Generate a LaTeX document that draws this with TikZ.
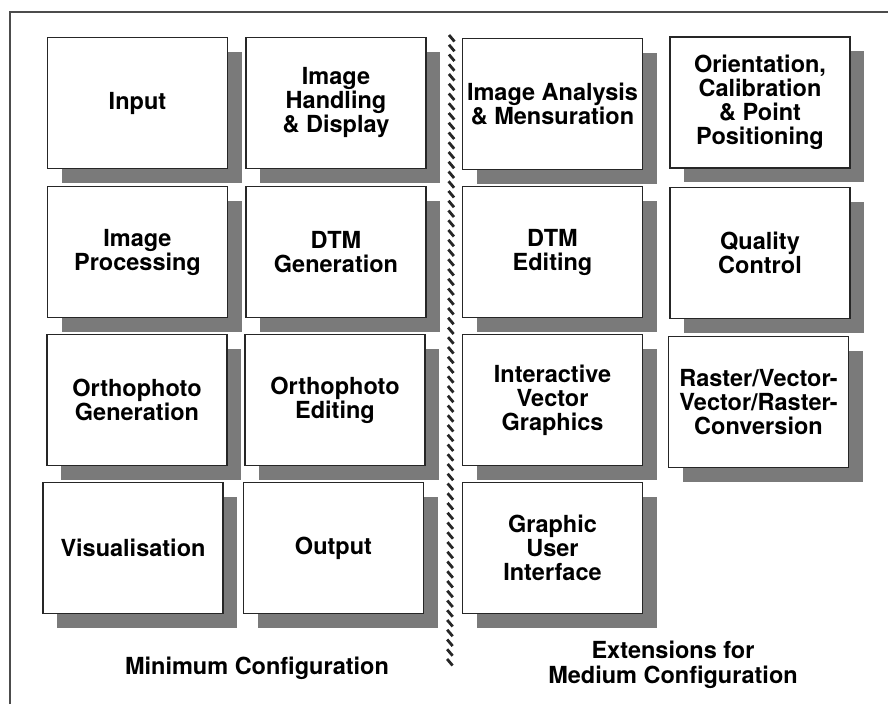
\documentclass[tikz,border=0pt]{standalone}
\usepackage{fontspec}
\setmainfont{TeX Gyre Heros}
\usetikzlibrary{shadows}
\begin{document}
\begin{tikzpicture}[x=1pt,y=-1pt,
  box/.style={draw=black!85, line width=1.8pt, fill=white, minimum width=180pt, minimum height=131pt, inner sep=0pt, align=center, font=\bfseries\fontsize{23.5}{24}\selectfont, drop shadow={shadow xshift=14pt, shadow yshift=-14pt, fill=black!52, opacity=1}},
  lbl/.style={align=center, inner sep=0pt, font=\bfseries\fontsize{23.5}{25}\selectfont},
  frameline/.style={draw=black!70, line width=1.2pt},
  pole/.style={line width=2.8pt, draw=black!85}]
\useasboundingbox (0,0) rectangle (888,704);
% frame
\coordinate (fbl) at (10,704);
\coordinate (ftl) at (10,12);
\coordinate (ftr) at (888,12);
\draw[frameline] (fbl) -- (ftl) -- (ftr);
% column 1
\node[box] (input) at (137.5,103) {Input};
\node[box] (improc) at (137.5,252) {Image\\Processing};
\node[box] (orthogen) at (137,400) {Orthophoto\\Generation};
\node[box] (visual) at (133,548) {Visualisation};
% column 2
\node[box] (imhand) at (336,103) {Image\\Handling\\\& Display};
\node[box] (dtmgen) at (336,252) {DTM\\Generation};
\node[box] (orthoedit) at (335,400) {Orthophoto\\Editing};
\node[box] (output) at (333.5,548) {Output};
% column 3
\node[box] (imanal) at (552.5,104) {Image Analysis\\\& Mensuration};
\node[box] (dtmedit) at (552.5,252) {DTM\\Editing};
\node[box] (ivg) at (552.5,400) {Interactive\\Vector\\Graphics};
\node[box] (gui) at (552.5,548) {Graphic\\User\\Interface};
% column 4
\node[box] (orient) at (760,102.5) {Orientation,\\Calibration\\\& Point\\Positioning};
\node[box] (quality) at (760,253) {Quality\\Control};
\node[box] (raster) at (758.5,402) {Raster/Vector-\\Vector/Raster-\\Conversion};
% divider
\foreach \i in {0,...,64}
  \draw[pole] ({449-0.03*\i},{35+9.75*\i}) -- ({454.5-0.03*\i},{41.5+9.75*\i});
% labels
\node[lbl, anchor=base] (minconf) at (257,674) {Minimum Configuration};
\node[lbl] (medconf) at (673,665) {Extensions for\\Medium Configuration};
\end{tikzpicture}
\end{document}
